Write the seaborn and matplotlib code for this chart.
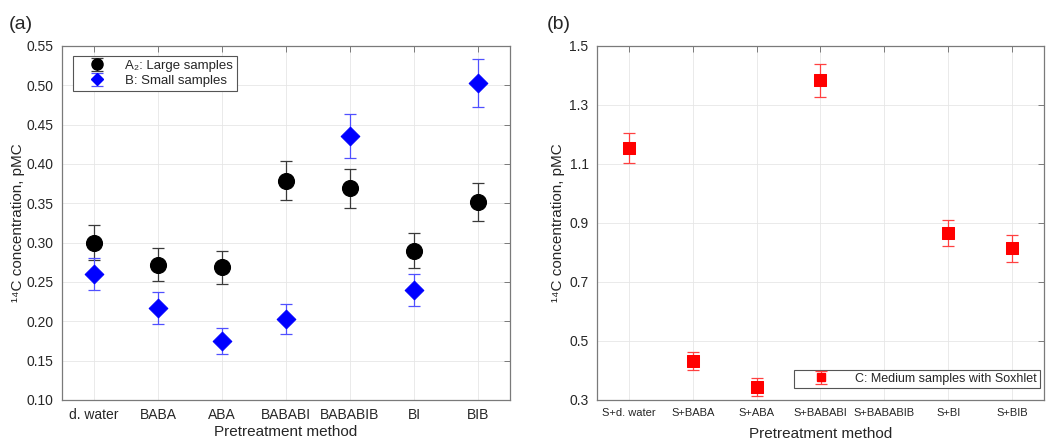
import numpy as np
import pandas as pd
import seaborn as sns
import matplotlib.pyplot as plt

# データ
methods_a = ["d. water", "BABA", "ABA", "BABABI", "BABABIB", "BI", "BIB"]
large_val = [0.300, 0.272, 0.269, 0.379, 0.369, 0.290, 0.352]
large_err = [0.022, 0.021, 0.021, 0.025, 0.025, 0.022, 0.024]
small_val = [0.260, 0.217, 0.175, 0.203, 0.435, 0.240, 0.503]
small_err = [0.020, 0.020, 0.017, 0.019, 0.028, 0.020, 0.030]

methods_b = ["S+d. water", "S+BABA", "S+ABA", "S+BABABI", "S+BABABIB", "S+BI", "S+BIB"]
medium_val = [1.155, 0.433, 0.344, 1.383, np.nan, 0.866, 0.814]
medium_err = [0.050, 0.030, 0.030, 0.055, np.nan, 0.044, 0.045]

yticks_a = [0.10, 0.15, 0.20, 0.25, 0.30, 0.35, 0.40, 0.45, 0.50, 0.55]
yticks_b = [0.3, 0.5, 0.7, 0.9, 1.1, 1.3, 1.5]

sns.set_style("whitegrid", {"grid.color": "#e6e6e6", "axes.edgecolor": "#7a7a7a"})
plt.rcParams['font.family'] = ['Liberation Sans', 'DejaVu Sans']
plt.rcParams['text.color'] = '#262626'
plt.rcParams['axes.labelcolor'] = '#262626'

df_a = pd.DataFrame({"method": methods_a * 2,
                     "value": large_val + small_val,
                     "err": large_err + small_err,
                     "group": ["A"] * 7 + ["B"] * 7})
df_b = pd.DataFrame({"method": methods_b, "value": medium_val, "err": medium_err})

fig = plt.figure(figsize=(10.46, 4.43), dpi=100)
ax1 = fig.add_axes([0.0593, 0.0971, 0.4283, 0.7991])
ax2 = fig.add_axes([0.5707, 0.0971, 0.4273, 0.7991])


def style_axes(ax):
    ax.tick_params(direction="in", top=True, right=True, length=4, width=0.7,
                   color="#7a7a7a", labelcolor="#262626", labelsize=10, pad=6)
    for s in ax.spines.values():
        s.set_linewidth(0.9)
    ax.grid(True, linewidth=0.6)


# (a)
xa = np.arange(len(methods_a))
da = df_a[df_a.group == "A"]
db = df_a[df_a.group == "B"]
e1 = ax1.errorbar(xa, da.value, yerr=da.err, fmt="none", ecolor="#3a3a3a",
                  elinewidth=0.9, capsize=4, capthick=0.9, zorder=2)
e2 = ax1.errorbar(xa, db.value, yerr=db.err, fmt="none", ecolor="#5050ff",
                  elinewidth=0.9, capsize=4, capthick=0.9, zorder=2)
sns.scatterplot(data=da, x="method", y="value", ax=ax1, marker="o", s=130,
                color="black", edgecolor="black", legend=False, zorder=3)
sns.scatterplot(data=db, x="method", y="value", ax=ax1, marker="D", s=90,
                color="#0000ff", edgecolor="#0000ff", legend=False, zorder=3)
m1, = ax1.plot([], [], "o", color="black", markersize=8)
m2, = ax1.plot([], [], "D", color="#0000ff", markersize=6)
style_axes(ax1)
ax1.set_xlim(-0.5, 6.5)
ax1.set_ylim(0.10, 0.55)
ax1.set_yticks(yticks_a)
ax1.set_yticklabels([f"{v:.2f}" for v in yticks_a])
ax1.set_xlabel("Pretreatment method", fontsize=11, labelpad=2)
ax1.set_ylabel("¹⁴C concentration, pMC", fontsize=11, labelpad=1)
leg1 = ax1.legend([(e1, m1), (e2, m2)], ["A₂: Large samples", "B: Small samples"],
                  loc="upper left", bbox_to_anchor=(0.025, 0.972), borderaxespad=0,
                  fontsize=9.5, handlelength=3.0, handletextpad=0.6, borderpad=0.3,
                  labelspacing=0.2, fancybox=False, framealpha=1, edgecolor="#555555")
leg1.get_frame().set_linewidth(0.8)
fig.text(0.008, 0.935, "(a)", fontsize=14)

# (b)
xb = np.arange(len(methods_b))
e3 = ax2.errorbar(xb, df_b.value, yerr=df_b.err, fmt="none", ecolor="#ff4040",
                  elinewidth=0.9, capsize=4, capthick=0.9, zorder=2)
sns.scatterplot(data=df_b, x="method", y="value", ax=ax2, marker="s", s=85,
                color="#ff0000", edgecolor="#ff0000", legend=False, zorder=3)
m3, = ax2.plot([], [], "s", color="#ff0000", markersize=6)
style_axes(ax2)
ax2.tick_params(axis="x", labelsize=8)
ax2.set_xticks(xb)
ax2.set_xticklabels(methods_b)
ax2.set_xlim(-0.5, 6.5)
ax2.set_ylim(0.3, 1.5)
ax2.set_yticks(yticks_b)
ax2.set_yticklabels([f"{v:.1f}" for v in yticks_b])
ax2.set_xlabel("Pretreatment method", fontsize=11, labelpad=6)
ax2.set_ylabel("¹⁴C concentration, pMC", fontsize=11, labelpad=3)
leg2 = ax2.legend([(e3, m3)], ["C: Medium samples with Soxhlet"],
                  loc="lower right", bbox_to_anchor=(0.991, 0.034), borderaxespad=0,
                  fontsize=9, handlelength=3.8, handletextpad=0.8, borderpad=0.25,
                  fancybox=False, framealpha=1, edgecolor="#555555")
leg2.get_frame().set_linewidth(0.8)
fig.text(0.523, 0.935, "(b)", fontsize=14)

plt.savefig("out.png", dpi=100)
